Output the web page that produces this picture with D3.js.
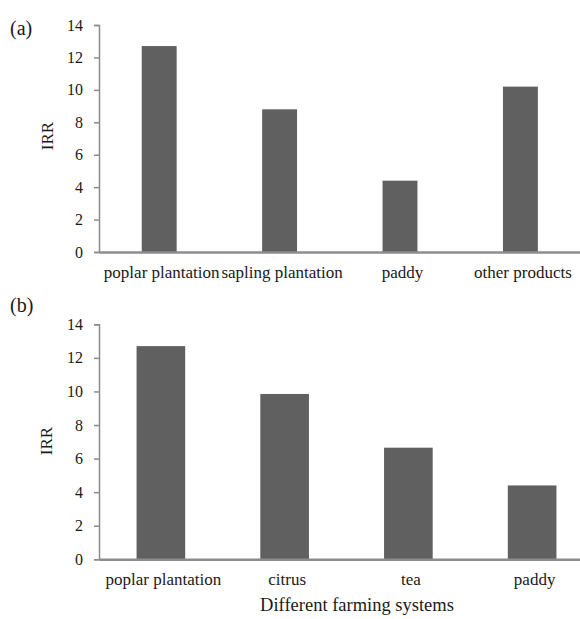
<!DOCTYPE html>
<html>
<head>
<meta charset="utf-8">
<script src="https://cdn.jsdelivr.net/npm/d3@7"></script>
<style>
  html, body { margin: 0; padding: 0; background: #fff; }
  svg { display: block; }
  text { font-family: "Liberation Serif", "Times New Roman", serif; fill: #1a1a1a; }
</style>
</head>
<body>
<svg id="chart" width="580" height="619" font-family="Liberation Serif, serif"></svg>
<script>
// ---- data ----
const categoriesA = ["poplar plantation", "sapling plantation", "paddy", "other products"];
const valuesA = [12.7, 8.8, 4.4, 10.2];
const categoriesB = ["poplar plantation", "citrus", "tea", "paddy"];
const valuesB = [12.7, 9.85, 6.65, 4.4];
const yTicks = [0, 2, 4, 6, 8, 10, 12, 14];
const panelLabels = ["(a)", "(b)"];
const yTitle = "IRR";
const xTitle = "Different farming systems";

const svg = d3.select("#chart");
const barColor = "#606060";
const axisColor = "#8c8c8c";

function panel(cfg) {
  const g = svg.append("g");
  const x = d3.scaleBand()
    .domain(cfg.categories)
    .range([cfg.x0, cfg.x1])
    .paddingInner(cfg.pad)
    .paddingOuter(cfg.pad / 2);
  const y = d3.scaleLinear().domain([0, 14]).range([cfg.yBottom, cfg.yTop]);

  // bars
  g.selectAll("rect.bar").data(cfg.values).enter().append("rect")
    .attr("class", "bar")
    .attr("x", (d, i) => x(cfg.categories[i]))
    .attr("width", x.bandwidth())
    .attr("y", d => y(d))
    .attr("height", d => y(0) - y(d))
    .attr("fill", barColor);

  // y axis
  const yAxis = d3.axisLeft(y).tickValues(yTicks).tickSize(5).tickSizeOuter(5).tickPadding(11);
  const ya = g.append("g").attr("transform", `translate(${cfg.x0},0)`).call(yAxis);
  ya.attr("font-family", null);
  ya.select(".domain").attr("stroke", axisColor).attr("stroke-width", 1.5);
  ya.selectAll(".tick line").attr("stroke", axisColor).attr("stroke-width", 1.5);
  ya.selectAll(".tick text")
    .style("font-family", '"Liberation Serif", serif')
    .style("font-size", "16px").attr("fill", "#1a1a1a");

  // x axis
  const xa = g.append("g").attr("transform", `translate(0,${cfg.yBottom})`)
    .call(d3.axisBottom(x).tickSize(0).tickSizeOuter(0).tickPadding(cfg.labelPad));
  xa.attr("font-family", null);
  xa.select(".domain").attr("stroke", axisColor).attr("stroke-width", 2.5);
  xa.selectAll(".tick text")
    .attr("dx", 2.5)
    .style("font-family", '"Liberation Serif", serif')
    .style("font-size", "17px").attr("fill", "#1a1a1a");

  // y title
  g.append("text")
    .attr("transform", `translate(${cfg.yTitleX},${cfg.yTitleY}) rotate(-90)`)
    .attr("text-anchor", "middle")
    .style("font-size", "17px")
    .text(yTitle);

  // panel letter
  g.append("text")
    .attr("x", 10).attr("y", cfg.letterY)
    .style("font-size", "20px")
    .text(cfg.letter);
  return g;
}

panel({
  categories: categoriesA, values: valuesA, letter: panelLabels[0],
  x0: 99, x1: 580.6, pad: 0.71, yTop: 25, yBottom: 252,
  labelPad: 14, yTitleX: 53, yTitleY: 136, letterY: 35
});

panel({
  categories: categoriesB, values: valuesB, letter: panelLabels[1],
  x0: 99, x1: 594, pad: 0.607, yTop: 324.3, yBottom: 559.3,
  labelPad: 14, yTitleX: 52, yTitleY: 441, letterY: 312
});

svg.append("text")
  .attr("x", 357).attr("y", 611)
  .attr("text-anchor", "middle")
  .style("font-size", "18.5px")
  .text(xTitle);
</script>
</body>
</html>
